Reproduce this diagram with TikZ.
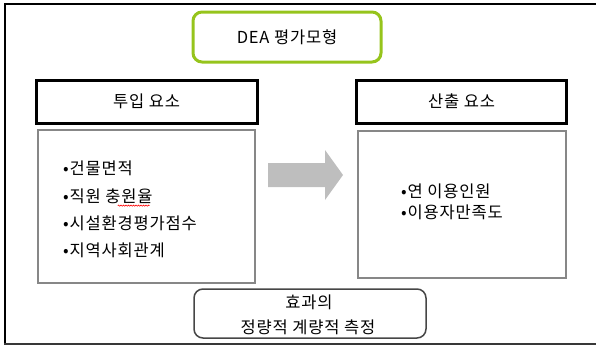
\documentclass[tikz,border=0pt]{standalone}
\usepackage{fontspec}
\usetikzlibrary{decorations.pathmorphing}
\setmainfont{Noto Sans CJK KR}[LetterSpace=5]
\begin{document}
\begin{tikzpicture}[x=1pt,y=-1pt,
  every node/.style={font=\fontsize{16.5}{19}\selectfont, inner sep=0pt},
  greenbox/.style={draw=limeg, line width=3pt, rounded corners=9pt},
  headbox/.style={draw=black, line width=3pt},
  listbox/.style={draw=boxgray, line width=2pt},
  effbox/.style={draw=effgray, line width=1.5pt, rounded corners=9pt},
  item/.style={anchor=west},
  spell/.style={draw=red, line width=0.6pt, decorate, decoration={snake, amplitude=0.6pt, segment length=2.5pt}}
]
\definecolor{limeg}{RGB}{150,196,28}
\definecolor{boxgray}{RGB}{135,135,135}
\definecolor{effgray}{RGB}{70,70,70}
\definecolor{arrowgray}{RGB}{190,190,190}
\useasboundingbox (0,0) rectangle (596,348);
% frame
\draw[line width=1.3pt] (596,4) -- (5,4) -- (5,344);
\draw[line width=2.5pt, effgray!80!black] (4,344) -- (596,344);
% top box
\node[greenbox, minimum width=188pt, minimum height=50pt] (dea) at (287,37) {DEA 평가모형};
% input
\node[headbox, minimum width=221pt, minimum height=43pt] (inhead) at (146.5,101.5) {투입 요소};
\node[listbox, minimum width=217pt, minimum height=153pt] (inbox) at (146.5,206.5) {};
\node[item] (i1) at (63,168) {•건물면적};
\node[item] (i2) at (63,196) {•직원 충원율};
\node[item] (i3) at (63,223) {•시설환경평가점수};
\node[item] (i4) at (63,250) {•지역사회관계};
\coordinate (u1) at ([xshift=-35pt, yshift=-2pt]i2.south east);
\coordinate (u2) at ([xshift=-3pt, yshift=-2pt]i2.south east);
\draw[spell] (u1) -- (u2);
% output
\node[headbox, minimum width=210pt, minimum height=43pt] (outhead) at (461.5,101.5) {산출 요소};
\node[listbox, minimum width=208pt, minimum height=147pt] (outbox) at (462,204.5) {};
\node[item] (o1) at (401,191) {•연 이용인원};
\node[item] (o2) at (401,212) {•이용자만족도};
% arrow
\fill[arrowgray] (268,163) -- (325,163) -- (325,150) -- (343,175) -- (325,200) -- (325,187) -- (268,187) -- cycle;
% bottom box
\node[effbox, minimum width=232pt, minimum height=49pt] (eff) at (310,313.5) {};
\node (e1) at (309,302) {효과의};
\node (e2) at (308,327) {정량적 계량적 측정};
\end{tikzpicture}
\end{document}
